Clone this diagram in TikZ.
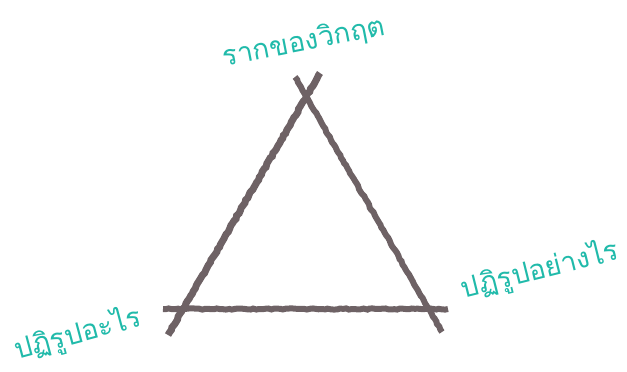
\documentclass[tikz,border=0pt]{standalone}
\usepackage{fontspec}
\newfontfamily\thaifont[Script=Thai]{Loma}
\usepackage{tikz}
\usetikzlibrary{decorations.pathmorphing}
\definecolor{chalkgrey}{RGB}{110,98,101}
\definecolor{labelteal}{RGB}{32,186,170}

\begin{document}
\begin{tikzpicture}[x=1pt, y=-1pt]
  \tikzstyle{stroke} = [draw=chalkgrey, line width=6pt, decorate, decoration={random steps, segment length=3pt, amplitude=0.6pt}]
  \tikzstyle{label} = [text=labelteal, font=\thaifont\fontsize{28}{30}\selectfont, inner sep=0pt]

  \useasboundingbox (0,0) rectangle (627,372);

  % corners of the triangle (lines overshoot)
  \coordinate (leftTop) at (320,73);
  \coordinate (leftBottom) at (168,335);
  \coordinate (rightTop) at (295,77);
  \coordinate (rightBottom) at (442,332);
  \coordinate (baseLeft) at (163,309);
  \coordinate (baseRight) at (448,309);

  \draw[stroke, line width=7pt] (leftTop) -- (leftBottom);
  \draw[stroke] (rightTop) -- (rightBottom);
  \draw[stroke] (baseLeft) -- (baseRight);

  \node[label, rotate=11] (root) at (304,42) {รากของวิกฤต};
  \node[label, rotate=14] (how) at (540,270) {ปฏิรูปอย่างไร};
  \node[label, rotate=15] (what) at (78,334) {ปฏิรูปอะไร};
\end{tikzpicture}
\end{document}
